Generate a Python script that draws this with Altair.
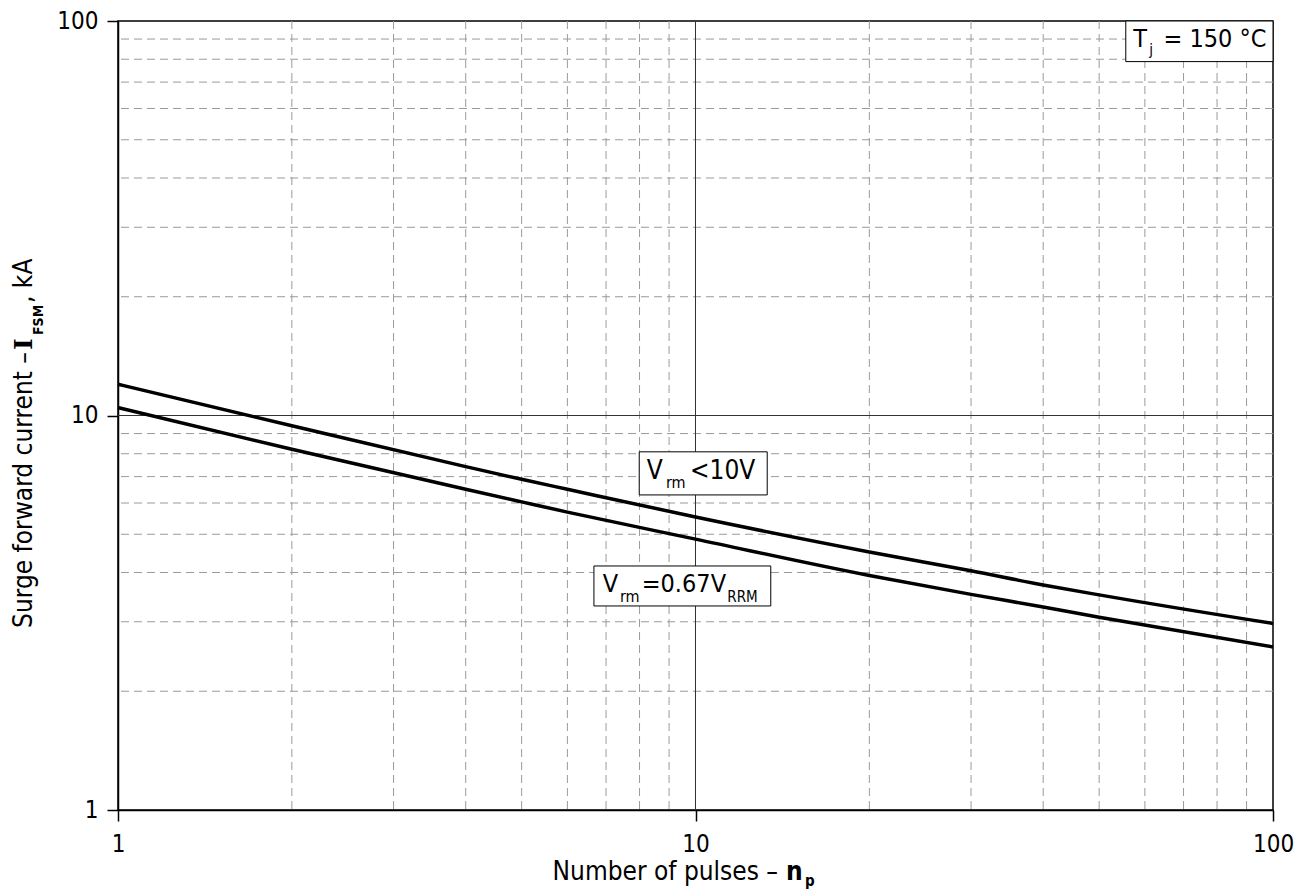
import altair as alt
import pandas as pd

FONT = "DejaVu Sans Condensed, DejaVu Sans"
SERIF = "DejaVu Serif"

# ---- data ----
n_pulses = [1, 2, 4, 5, 6, 10, 20, 30, 40, 50, 100]
i_fsm_vrm_lt10 = [12.0, 9.42, 7.42, 6.89, 6.50, 5.53, 4.51, 4.04, 3.72, 3.51, 2.97]
i_fsm_vrm_067 = [10.47, 8.21, 6.50, 6.04, 5.69, 4.86, 3.93, 3.52, 3.27, 3.08, 2.59]
curve_names = ["Vrm<10V", "Vrm=0.67VRRM"]

axis_ticks = [1, 10, 100]
minor_grid = [2, 3, 4, 5, 6, 7, 8, 9, 20, 30, 40, 50, 60, 70, 80, 90]
major_grid = [10]

# annotation boxes (data units): x-left, x-right, y-top, y-bottom
box_x1 = [7.99, 6.67, 55.6]
box_x2 = [13.31, 13.50, 100]
box_y1 = [8.09, 4.155, 100]
box_y2 = [6.29, 3.29, 78.9]

XS = alt.Scale(type="log", domain=[1, 100], nice=False)
YS = alt.Scale(type="log", domain=[1, 100], nice=False)

common_axis = dict(
    values=axis_ticks, format="d", title=None, grid=False, tickSize=11,
    labelFont=FONT, labelFontSize=24, labelColor="black",
    tickColor="black", tickWidth=1.5, domainColor="black", domainWidth=1.5,
    labelFlush=False, labelOverlap=False,
)
XAX = alt.Axis(labelPadding=11, **common_axis)
YAX = alt.Axis(labelPadding=9, **common_axis)

df_lines = pd.DataFrame({
    "n": n_pulses * 2,
    "i": i_fsm_vrm_lt10 + i_fsm_vrm_067,
    "curve": [curve_names[0]] * len(n_pulses) + [curve_names[1]] * len(n_pulses),
})

minor_v = alt.Chart(pd.DataFrame({"n": minor_grid})).mark_rule(
    color="#9a9a9a", strokeDash=[8, 5], strokeWidth=1
).encode(x=alt.X("n:Q", scale=XS, axis=XAX))
minor_h = alt.Chart(pd.DataFrame({"i": minor_grid})).mark_rule(
    color="#9a9a9a", strokeDash=[8, 5], strokeWidth=1
).encode(y=alt.Y("i:Q", scale=YS, axis=YAX))
major_v = alt.Chart(pd.DataFrame({"n": major_grid})).mark_rule(
    color="#333333", strokeWidth=1
).encode(x=alt.X("n:Q", scale=XS, axis=XAX))
major_h = alt.Chart(pd.DataFrame({"i": major_grid})).mark_rule(
    color="#333333", strokeWidth=1
).encode(y=alt.Y("i:Q", scale=YS, axis=YAX))

lines = alt.Chart(df_lines).mark_line(
    color="black", strokeWidth=3.5, interpolate="monotone"
).encode(
    x=alt.X("n:Q", scale=XS, axis=XAX),
    y=alt.Y("i:Q", scale=YS, axis=YAX),
    detail="curve:N",
)

boxes = alt.Chart(pd.DataFrame({"n": box_x1, "n2": box_x2, "i": box_y1, "i2": box_y2})).mark_rect(
    fill="white", stroke="black", strokeWidth=1
).encode(
    x=alt.X("n:Q", scale=XS, axis=XAX), x2="n2:Q",
    y=alt.Y("i:Q", scale=YS, axis=YAX), y2="i2:Q",
)


def dtext(s, xv, yv, size, weight="normal"):
    return alt.Chart(pd.DataFrame({"n": [xv], "i": [yv]})).mark_text(
        text=s, font=FONT, fontSize=size, fontWeight=weight, align="left",
        baseline="alphabetic", color="black"
    ).encode(x=alt.X("n:Q", scale=XS, axis=XAX), y=alt.Y("i:Q", scale=YS, axis=YAX))


def ptext(s, px, py, size, weight="normal", align="left", angle=0, font=FONT):
    return alt.Chart(alt.Data(values=[{}])).mark_text(
        text=s, font=font, fontSize=size, fontWeight=weight, align=align,
        baseline="alphabetic", angle=angle, color="black"
    ).encode(x=alt.value(px), y=alt.value(py))


annotations = [
    # V_rm < 10V
    dtext("V", 8.23, 6.89, 26),
    dtext("rm", 8.89, 6.54, 16),
    dtext("<10V", 9.78, 6.89, 26),
    # V_rm = 0.67 V_RRM
    dtext("V", 6.91, 3.576, 25),
    dtext("rm", 7.40, 3.362, 16),
    dtext("=0.67V", 8.07, 3.576, 25),
    dtext("RRM", 11.35, 3.362, 15),
    # T_j = 150 °C
    dtext("T", 57.3, 86.1, 25),
    dtext("j", 61.07, 82.0, 15),
    dtext("= 150 °C", 64.6, 86.1, 25),
]

titles = [
    ptext("Number of pulses –", 660, 859, 26, align="right"),
    ptext("n", 668, 859, 26, weight="bold"),
    ptext("p", 687, 865, 15, weight="bold"),
    ptext("Surge forward current –", -86, 331, 26, align="right", angle=270),
    ptext("I", -86, 329, 25, weight="bold", angle=270, font=SERIF),
    ptext("FSM", -75, 314, 14, weight="bold", angle=270),
    ptext(", kA", -86, 282, 26, angle=270),
]

chart = alt.layer(
    minor_v, minor_h, major_v, major_h, lines, boxes, *annotations, *titles
).properties(
    width=1155, height=789,
    autosize=alt.AutoSizeParams(type="none"),
    padding={"left": 110, "top": 13, "right": 28, "bottom": 82},
    background="white",
).configure_view(stroke="black", strokeWidth=1.5)

chart.save("out.html", embed_options={"renderer": "svg", "actions": False})
